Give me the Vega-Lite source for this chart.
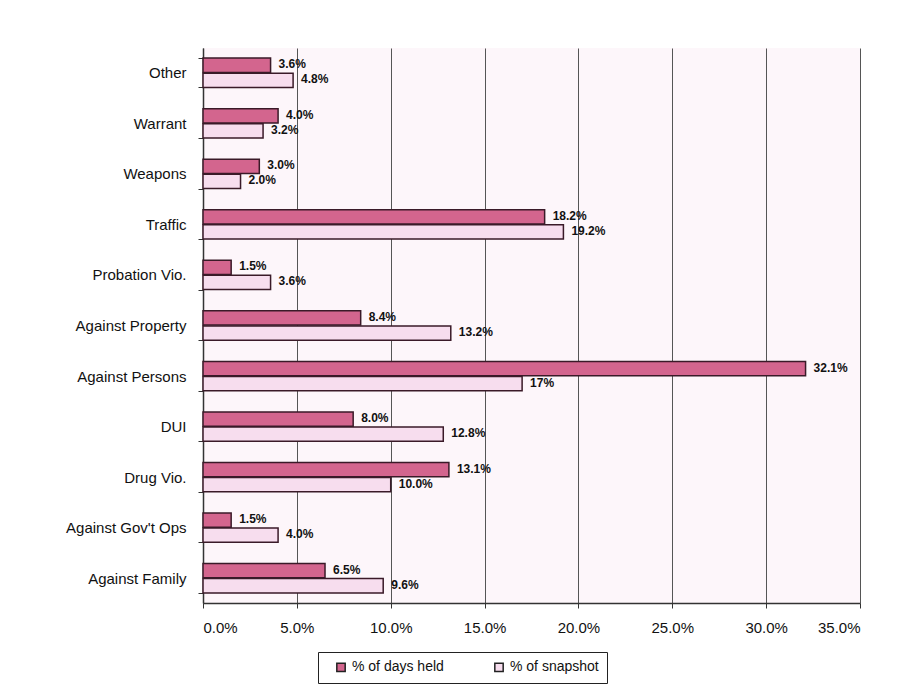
{
  "$schema": "https://vega.github.io/schema/vega-lite/v6.json",
  "width": 657,
  "height": 555,
  "autosize": {"type": "none"},
  "padding": {"left": 203, "top": 48, "right": 51, "bottom": 97},
  "background": "white",
  "config": {
    "font": "Liberation Sans",
    "view": {"fill": "#fdf6fa", "stroke": null}
  },
  "data": {
    "values": [
      {"category": "Other", "series": "% of days held", "value": 3.6, "label": "3.6%"},
      {"category": "Other", "series": "% of snapshot", "value": 4.8, "label": "4.8%"},
      {"category": "Warrant", "series": "% of days held", "value": 4.0, "label": "4.0%"},
      {"category": "Warrant", "series": "% of snapshot", "value": 3.2, "label": "3.2%"},
      {"category": "Weapons", "series": "% of days held", "value": 3.0, "label": "3.0%"},
      {"category": "Weapons", "series": "% of snapshot", "value": 2.0, "label": "2.0%"},
      {"category": "Traffic", "series": "% of days held", "value": 18.2, "label": "18.2%"},
      {"category": "Traffic", "series": "% of snapshot", "value": 19.2, "label": "19.2%"},
      {"category": "Probation Vio.", "series": "% of days held", "value": 1.5, "label": "1.5%"},
      {"category": "Probation Vio.", "series": "% of snapshot", "value": 3.6, "label": "3.6%"},
      {"category": "Against Property", "series": "% of days held", "value": 8.4, "label": "8.4%"},
      {"category": "Against Property", "series": "% of snapshot", "value": 13.2, "label": "13.2%"},
      {"category": "Against Persons", "series": "% of days held", "value": 32.1, "label": "32.1%"},
      {"category": "Against Persons", "series": "% of snapshot", "value": 17.0, "label": "17%"},
      {"category": "DUI", "series": "% of days held", "value": 8.0, "label": "8.0%"},
      {"category": "DUI", "series": "% of snapshot", "value": 12.8, "label": "12.8%"},
      {"category": "Drug Vio.", "series": "% of days held", "value": 13.1, "label": "13.1%"},
      {"category": "Drug Vio.", "series": "% of snapshot", "value": 10.0, "label": "10.0%"},
      {"category": "Against Gov't Ops", "series": "% of days held", "value": 1.5, "label": "1.5%"},
      {"category": "Against Gov't Ops", "series": "% of snapshot", "value": 4.0, "label": "4.0%"},
      {"category": "Against Family", "series": "% of days held", "value": 6.5, "label": "6.5%"},
      {"category": "Against Family", "series": "% of snapshot", "value": 9.6, "label": "9.6%"}
    ]
  },
  "encoding": {
    "y": {
      "field": "category",
      "type": "nominal",
      "sort": ["Other", "Warrant", "Weapons", "Traffic", "Probation Vio.", "Against Property", "Against Persons", "DUI", "Drug Vio.", "Against Gov't Ops", "Against Family"],
      "scale": {"paddingInner": 0.42, "paddingOuter": 0.2},
      "axis": {
        "title": null,
        "labelFontSize": 15,
        "labelColor": "#111",
        "labelPadding": 12,
        "domainColor": "#333",
        "domainWidth": 1.5,
        "tickColor": "#333",
        "tickSize": 5,
        "tickBand": "extent"
      }
    },
    "yOffset": {
      "field": "series",
      "sort": ["% of days held", "% of snapshot"],
      "scale": {"paddingInner": 0.05}
    },
    "x": {
      "field": "value",
      "type": "quantitative",
      "scale": {"domain": [0, 35], "nice": false},
      "axis": {
        "title": null,
        "values": [0, 5, 10, 15, 20, 25, 30, 35],
        "labelExpr": "format(datum.value, '.1f') + '%'",
        "labelFontSize": 15,
        "labelColor": "#111",
        "labelPadding": 12,
        "domainColor": "#333",
        "domainWidth": 1.5,
        "tickColor": "#333",
        "tickSize": 5,
        "grid": true,
        "gridColor": "#555",
        "gridWidth": 1
      }
    }
  },
  "layer": [
    {
      "mark": {"type": "bar", "stroke": "#3a1a28", "strokeWidth": 1.5},
      "encoding": {
        "color": {
          "field": "series",
          "type": "nominal",
          "sort": ["% of days held", "% of snapshot"],
          "scale": {"domain": ["% of days held", "% of snapshot"], "range": ["#d3658e", "#f7ddee"]},
          "legend": {
            "title": null,
            "orient": "none",
            "direction": "horizontal",
            "legendX": 115,
            "legendY": 604,
            "strokeColor": "#222",
            "padding": 8,
            "symbolType": "square",
            "symbolSize": 70,
            "symbolStrokeColor": "#222",
            "symbolStrokeWidth": 1.5,
            "labelFontSize": 14,
            "labelColor": "#111",
            "columnPadding": 40,
            "symbolOffset": 8,
            "fillColor": "white"
          }
        }
      }
    },
    {
      "mark": {"type": "text", "align": "left", "baseline": "middle", "dx": 8, "dy": -1, "fontWeight": "bold", "fontSize": 12, "color": "#111"},
      "encoding": {
        "text": {"field": "label"}
      }
    }
  ]
}
